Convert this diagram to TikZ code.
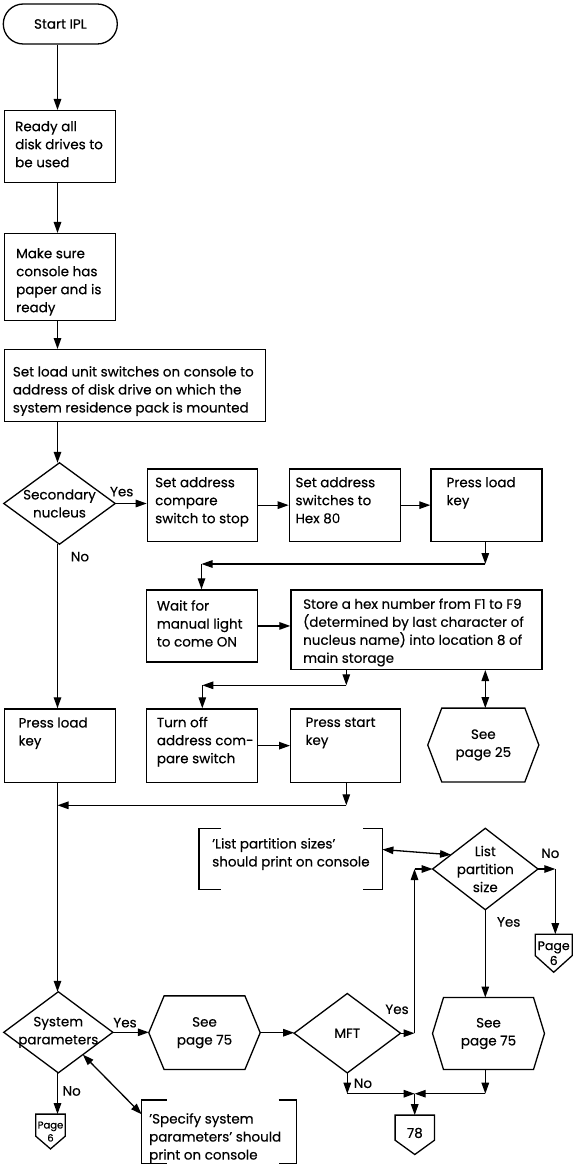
\documentclass[tikz,border=0pt]{standalone}
\usepackage{fontspec}
\setmainfont{Poppins}[FakeBold=0.4]
\usetikzlibrary{arrows.meta,calc}
\newcommand\bodyfont{\fontsize{13.5}{18}\selectfont}
\newcommand\mkbox[8]{%
  \node[box, minimum width={#4-#2}, minimum height={#5-#3}] (#1) at (#2,#3) {};
  \node[txt] (#1t) at (#6,#7) {#8};}
\newcommand\myhex[2]{\draw[ln] (#1.west) -- ([xshift=#2pt]#1.north west) -- ([xshift=-#2pt]#1.north east) -- (#1.east) -- ([xshift=-#2pt]#1.south east) -- ([xshift=#2pt]#1.south west) -- cycle;}
\newcommand\mydiam[1]{\draw[ln] (#1.north) -- (#1.east) -- (#1.south) -- (#1.west) -- cycle;}
\newcommand\myoff[2]{\draw[ln] (#1.north west) -- (#1.north east) -- ([yshift=#2pt]#1.south east) -- (#1.south) -- ([yshift=#2pt]#1.south west) -- cycle;}
\tikzset{
  ln/.style={line width=1.3pt},
  arr/.style={ln, -{Triangle[length=11pt,width=7.5pt]}},
  darr/.style={ln, {Triangle[length=11pt,width=7.5pt]}-{Triangle[length=11pt,width=7.5pt]}},
  box/.style={draw, ln, inner sep=0pt, anchor=north west},
  invis/.style={inner sep=0pt, anchor=north west},
  txt/.style={inner sep=0pt, anchor=north west, align=left, font=\bodyfont},
  lbl/.style={inner sep=0pt, font=\bodyfont},
  ctr/.style={inner sep=0pt, align=center, font=\bodyfont},
}
\begin{document}
\begin{tikzpicture}[x=1pt,y=-1pt]
\useasboundingbox (0,0) rectangle (577,1166);
\coordinate (mx) at (57.5,0);
% start
\node[draw, ln, rounded corners=20pt, minimum width=114, minimum height=40, inner sep=0pt, font=\bodyfont] (start) at (60.3,24) {Start IPL};
\mkbox{b1}{4}{110}{115}{182}{15}{121}{Ready all\\disk drives to\\be used}
\mkbox{b2}{4}{233}{115}{320}{16}{248}{Make sure\\console has\\paper and is\\ready}
\mkbox{b3}{4}{349}{265}{421}{12.7}{366}{Set load unit switches on console to\\address of disk drive on which the\\system residence pack is mounted}
\draw[arr] (start.south -| mx) -- (b1.north -| mx);
\draw[arr] (b1.south -| mx) -- (b2.north -| mx);
\draw[arr] (b2.south -| mx) -- (b3.north -| mx);
% secondary nucleus
\node[ctr, minimum width=111, minimum height=81] (d1) at (59.5,503.5) {Secondary\\nucleus};
\mydiam{d1}
\draw[arr] (b3.south -| mx) -- (d1.north -| mx);
\mkbox{bA}{146.7}{468.3}{256.7}{540.7}{155}{477}{Set address\\compare\\switch to stop}
\mkbox{bB}{288.7}{468.3}{399.7}{540.7}{295.3}{477}{Set address\\switches to\\Hex 80}
\mkbox{bC}{430.3}{468.3}{541.3}{540.7}{446.3}{477}{Press load\\key}
\node[lbl] (y1) at (121.7,491.7) {Yes};
\node[lbl] (n1) at (80,556.7) {No};
\draw[arr] (d1.east) -- (d1.east -| bA.west);
\draw[arr] (bA.east) -- (bB.west);
\draw[arr] (bB.east) -- (bC.west);
% row 2
\coordinate (c1) at (485.3,564);
\coordinate (c2) at (201.5,564);
\mkbox{bW}{145.7}{589.3}{256.7}{661.3}{156.7}{600}{Wait for\\manual light\\to come ON}
\mkbox{bS}{290.3}{589.3}{541.3}{668.7}{303}{598.3}{Store a hex number from F1 to F9\\(determined by last character of\\nucleus name) into location 8 of\\main storage}
\draw[arr] (bC.south -| c1) -- (c1);
\draw[arr] (c1) -- (c2);
\draw[arr] (c2) -- (c2 |- bW.north);
\draw[arr] (bW.east) -- (bW.east -| bS.west);
\node[ctr, minimum width=110.7, minimum height=73.4] (h25) at (483.3,745) {See\\page 25};
\myhex{h25}{14}
\draw[darr] (bS.south -| c1) -- (h25.north -| c1);
% row 3
\coordinate (c3) at (346.3,685.3);
\coordinate (c4) at (202.3,685.3);
\mkbox{bP}{4}{708.3}{115}{781.7}{18.3}{717.3}{Press load\\key}
\mkbox{bT}{145.7}{708.3}{256.7}{781.7}{156.7}{716.7}{Turn off\\address com-\\pare switch}
\mkbox{bPS}{290}{708.3}{399.7}{781.7}{305.3}{717.3}{Press start\\key}
\draw[arr] (bS.south -| c3) -- (c3);
\draw[arr] (c3) -- (c4);
\draw[arr] (c4) -- (c4 |- bT.north);
\draw[arr] (bT.east) -- (bPS.west);
\draw[arr] (d1.south -| mx) -- (bP.north -| mx);
\coordinate (c5) at (346.3,805.3);
\coordinate (c6) at (57.5,805.3);
\draw[arr] (bPS.south -| c5) -- (c5);
\draw[arr] (c5) -- (c6);
% list partition
\node[invis, minimum width=183, minimum height=61] (br1) at (199,828.3) {};
\node[txt] (br1t) at (212,838) {'List partition sizes'\\should print on console};
\draw[ln] ([xshift=22pt]br1.north west) -- (br1.north west) -- (br1.south west) -- ([xshift=22pt]br1.south west);
\draw[ln] ([xshift=-19pt]br1.north east) -- (br1.north east) -- (br1.south east) -- ([xshift=-19pt]br1.south east);
\node[ctr, minimum width=105, minimum height=81] (dL) at (485.3,869) {List\\partition\\size};
\mydiam{dL}
\draw[darr] ([yshift=9.5pt]br1.east) -- ($(dL.west)!0.35!(dL.north)$);
\node[lbl] (n2) at (550.3,853.3) {No};
\coordinate (c7) at (555.3,869);
\node[ctr, minimum width=36.7, minimum height=37.7, font=\fontsize{12.5}{15}\selectfont] (pg6a) at (553.7,953.2) {Page\\6};
\myoff{pg6a}{16.7}
\draw[arr] (dL.east) -- (c7);
\draw[arr] (c7) -- (c7 |- pg6a.north);
\node[lbl] (y2) at (508.7,922) {Yes};
\node[ctr, minimum width=111.6, minimum height=71.6] (h75b) at (488.5,1033.5) {See\\page 75};
\myhex{h75b}{11}
\draw[arr] (dL.south) -- (dL.south |- h75b.north);
% system parameters
\node[ctr, minimum width=108.7, minimum height=80.7] (dS) at (58.3,1032.3) {System\\parameters};
\mydiam{dS}
\draw[arr] (bP.south -| mx) -- (dS.north -| mx);
\node[lbl] (y3) at (125,1022.7) {Yes};
\node[ctr, minimum width=111, minimum height=73.3] (h75a) at (204.5,1032.7) {See\\page 75};
\myhex{h75a}{15.3}
\draw[arr] (dS.east) -- (dS.east -| h75a.west);
\node[ctr, minimum width=106, minimum height=79] (dM) at (347.3,1033.2) {MFT};
\mydiam{dM}
\draw[arr] (h75a.east) -- (h75a.east -| dM.west);
\node[lbl] (y4) at (397,1009.3) {Yes};
\coordinate (c8) at (414.5,1033.2);
\coordinate (c9) at (414.5,869);
\draw[arr] (dM.east) -- (c8);
\draw[arr] (c8) -- (c9);
\draw[arr] (c9) -- (dL.west);
\node[lbl] (n4) at (363,1083.3) {No};
\coordinate (c10) at (347.3,1093.7);
\coordinate (c11) at (414.7,1093.7);
\coordinate (c12) at (485.3,1093.7);
\node[ctr, minimum width=39, minimum height=39] (c78) at (414.8,1134.8) {\raisebox{4pt}{78}};
\myoff{c78}{14.3}
\draw[arr] (dM.south) -- (c10);
\draw[arr] (c10) -- (c11);
\draw[arr] (h75b.south -| c12) -- (c12);
\draw[arr] (c12) -- (c11);
\draw[arr] (c11) -- (c11 |- c78.north);
\node[lbl] (n3) at (71.7,1091) {No};
\node[ctr, minimum width=29, minimum height=34.4, font=\fontsize{10}{13}\selectfont] (pg6b) at (50.5,1131.5) {Page\\6};
\myoff{pg6b}{12.7}
\draw[arr] (dS.south -| mx) -- (pg6b.north -| mx);
\node[invis, minimum width=154.6, minimum height=63] (br2) at (141.7,1100) {};
\node[txt] (br2t) at (149,1113) {'Specify system\\parameters' should\\print on console};
\draw[ln] ([xshift=25pt]br2.north west) -- (br2.north west) -- (br2.south west) -- ([xshift=25pt]br2.south west);
\draw[ln] ([xshift=-18pt]br2.north east) -- (br2.north east) -- (br2.south east) -- ([xshift=-18pt]br2.south east);
\draw[darr] ($(dS.east)!0.55!(dS.south)$) -- ([yshift=-14.3pt]br2.north west);
\end{tikzpicture}
\end{document}
